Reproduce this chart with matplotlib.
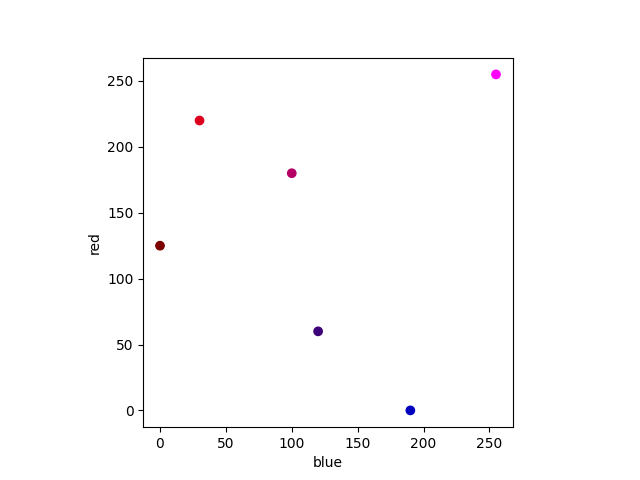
import numpy as np
import matplotlib
matplotlib.use('Agg')
import matplotlib.pyplot as plt

# colour components of each point
red = np.array([125, 220, 180, 60, 0, 255])
green = np.array([0, 0, 0, 0, 0, 0])
blue = np.array([0, 30, 100, 120, 190, 255])

colors = np.stack([red, green, blue], axis=1) / 255.0

fig, ax = plt.subplots(figsize=(6.4, 4.8), dpi=100)
ax.scatter(blue, red, c=colors)
ax.set_xlabel('blue')
ax.set_ylabel('red')
ax.set_aspect('equal')
fig.savefig('out.png')
